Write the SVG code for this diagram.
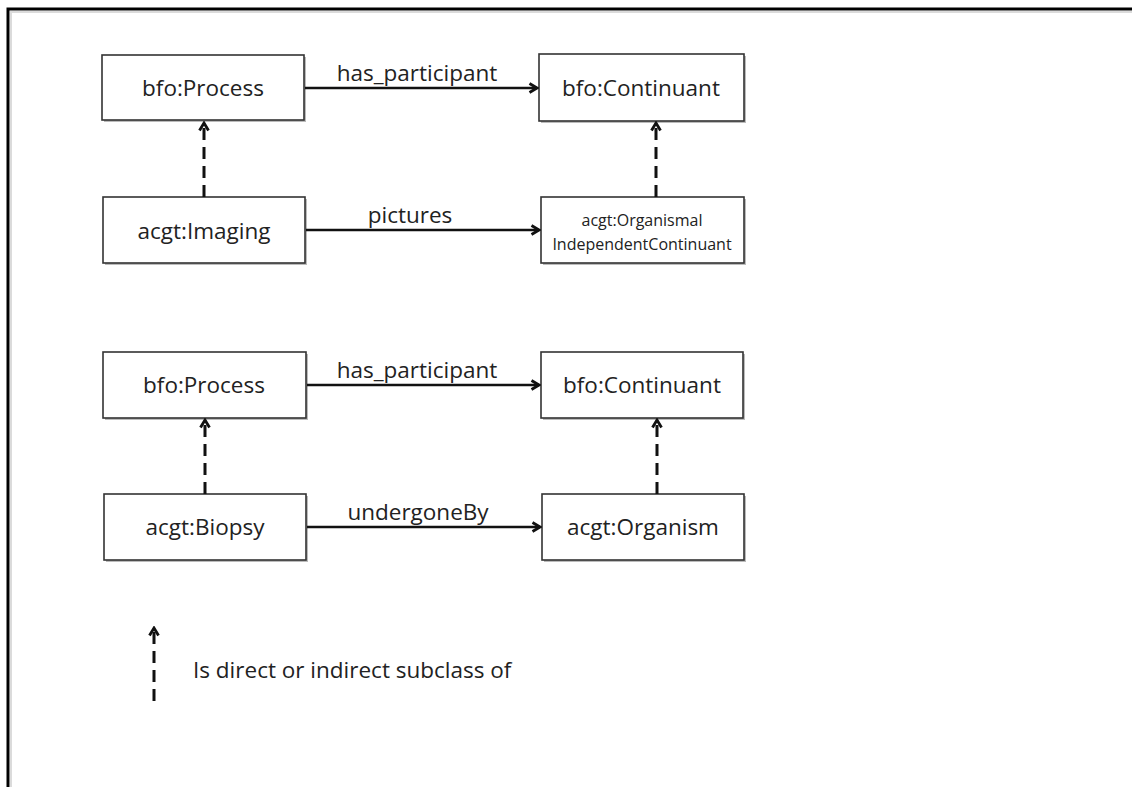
<svg xmlns="http://www.w3.org/2000/svg" width="1132" height="787" viewBox="0 0 1132 787">
  <style>
    .box { fill: #ffffff; stroke: #333333; stroke-width: 1.6; }
    .shadow { fill: #bbbbbb; }
    .lbl { font-family: "Open Sans", "Liberation Sans", sans-serif; font-size: 22.5px; fill: #222222; text-anchor: middle; }
    .small { font-size: 16px; }
    .rel { stroke: #111111; stroke-width: 2.5; fill: none; }
    .isa { stroke: #111111; stroke-width: 3; fill: none; stroke-dasharray: 12 7; }
  </style>
  <defs>
    <marker id="open" viewBox="0 0 12 12" refX="10" refY="6" markerWidth="12" markerHeight="12" markerUnits="userSpaceOnUse" orient="auto">
      <path d="M2.5,1.5 L10,6 L2.5,10.5" fill="none" stroke="#111111" stroke-width="2.8" stroke-linejoin="miter"/>
    </marker>
  </defs>
  <rect width="1132" height="787" fill="#ffffff"/>
  <!-- frame -->
  <path d="M8,787 V9 H1132" fill="none" stroke="#000000" stroke-width="3"/>
  <path d="M11,787 V12 H1132" fill="none" stroke="#cccccc" stroke-width="2" opacity="0.7"/>

  <!-- nodes -->
  <g id="process1">
    <rect class="shadow" x="104" y="57" width="202" height="65"/>
    <rect class="box" x="102" y="55" width="202" height="65"/>
    <text class="lbl" x="203" y="96">bfo:Process</text>
  </g>
  <g id="continuant1">
    <rect class="shadow" x="541" y="56" width="205" height="67"/>
    <rect class="box" x="539" y="54" width="205" height="67"/>
    <text class="lbl" x="641" y="96">bfo:Continuant</text>
  </g>
  <g id="imaging">
    <rect class="shadow" x="105" y="199" width="202" height="66"/>
    <rect class="box" x="103" y="197" width="202" height="66"/>
    <text class="lbl" x="204" y="239">acgt:Imaging</text>
  </g>
  <g id="organismal">
    <rect class="shadow" x="543" y="199" width="203" height="66"/>
    <rect class="box" x="541" y="197" width="203" height="66"/>
    <text class="lbl small" x="642" y="226">acgt:Organismal</text>
    <text class="lbl small" x="642" y="250">IndependentContinuant</text>
  </g>
  <g id="process2">
    <rect class="shadow" x="105" y="354" width="203" height="66"/>
    <rect class="box" x="103" y="352" width="203" height="66"/>
    <text class="lbl" x="204" y="393">bfo:Process</text>
  </g>
  <g id="continuant2">
    <rect class="shadow" x="543" y="354" width="202" height="66"/>
    <rect class="box" x="541" y="352" width="202" height="66"/>
    <text class="lbl" x="642" y="393">bfo:Continuant</text>
  </g>
  <g id="biopsy">
    <rect class="shadow" x="106" y="496" width="202" height="66"/>
    <rect class="box" x="104" y="494" width="202" height="66"/>
    <text class="lbl" x="205" y="535">acgt:Biopsy</text>
  </g>
  <g id="organism">
    <rect class="shadow" x="544" y="496" width="202" height="66"/>
    <rect class="box" x="542" y="494" width="202" height="66"/>
    <text class="lbl" x="643" y="535">acgt:Organism</text>
  </g>

  <!-- connectors -->
  <g id="connectors">
    <line class="rel" x1="305" y1="88" x2="537" y2="88" marker-end="url(#open)"/>
    <text class="lbl" x="417" y="81">has_participant</text>
    <line class="rel" x1="306" y1="230" x2="539" y2="230" marker-end="url(#open)"/>
    <text class="lbl" x="410" y="223">pictures</text>
    <line class="rel" x1="307" y1="385" x2="539" y2="385" marker-end="url(#open)"/>
    <text class="lbl" x="417" y="378">has_participant</text>
    <line class="rel" x1="307" y1="527" x2="540" y2="527" marker-end="url(#open)"/>
    <text class="lbl" x="418" y="520">undergoneBy</text>

    <line class="isa" x1="204" y1="197" x2="204" y2="123" marker-end="url(#open)"/>
    <line class="isa" x1="656" y1="197" x2="656" y2="123" marker-end="url(#open)"/>
    <line class="isa" x1="205" y1="494" x2="205" y2="420" marker-end="url(#open)"/>
    <line class="isa" x1="657" y1="494" x2="657" y2="420" marker-end="url(#open)"/>
  </g>

  <!-- legend -->
  <g id="legend">
    <line class="isa" x1="154" y1="701" x2="154" y2="628" marker-end="url(#open)"/>
    <text class="lbl" x="193" y="678" style="text-anchor:start">Is direct or indirect subclass of</text>
  </g>
</svg>
